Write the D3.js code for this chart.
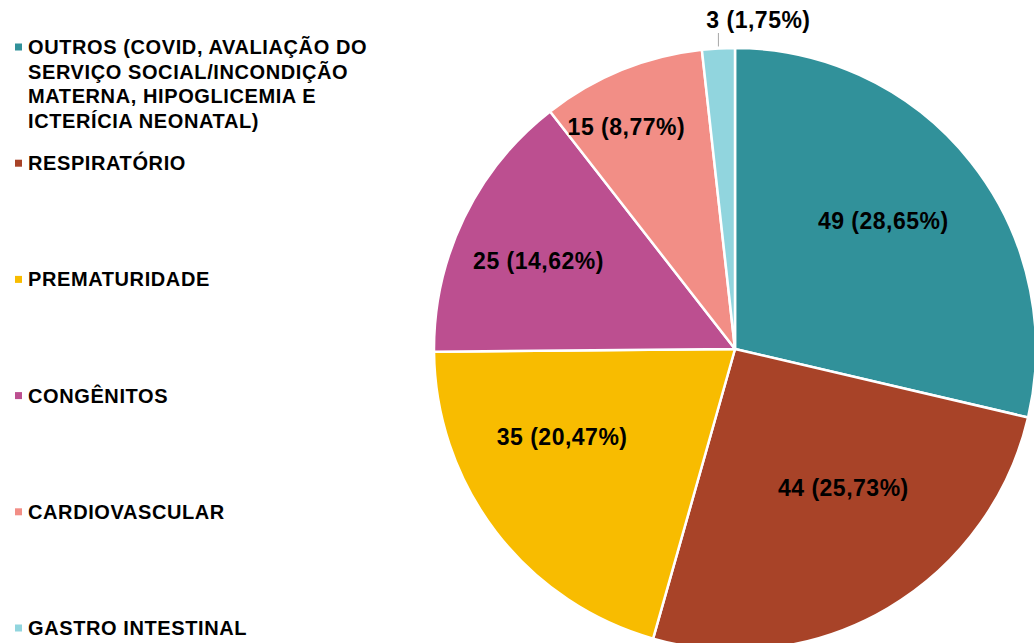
<!DOCTYPE html>
<html>
<head>
<meta charset="utf-8">
<script src="https://cdn.jsdelivr.net/npm/d3@7"></script>
<style>
  body { margin: 0; background: #fff; }
  svg text { font-family: "Liberation Sans", Arial, sans-serif; font-weight: bold; fill: #000; }
</style>
</head>
<body>
<div class="chart"></div>
<script>
// categories (legend lines split as in the picture)
const categories = [
    ['OUTROS (COVID, AVALIAÇÃO DO', 'SERVIÇO SOCIAL/INCONDIÇÃO', 'MATERNA, HIPOGLICEMIA E', 'ICTERÍCIA NEONATAL)'],
    ['RESPIRATÓRIO'],
    ['PREMATURIDADE'],
    ['CONGÊNITOS'],
    ['CARDIOVASCULAR'],
    ['GASTRO INTESTINAL']
];
const counts = [49, 44, 35, 25, 15, 3];
const percents = ['28,65%', '25,73%', '20,47%', '14,62%', '8,77%', '1,75%'];
const colors = ['#31919a', '#a84328', '#f8bc00', '#bc4f90', '#f28e86', '#91d5de'];

const width = 1034, height = 643;
const cx = 735, cy = 349, radius = 301;

// best-fit style label nudges (radius factor, angle offset)
const labelR = [0.65, 0.585, 0.645, 0.715, 0.82];
const labelA = [-0.04, -0.13, 0.18, -0.03, -0.07];

const svg = d3.select('.chart').append('svg')
    .attr('width', width)
    .attr('height', height);

const pie = d3.pie().sort(null).value(d => d);
const arcs = pie(counts);
const arc = d3.arc().innerRadius(0).outerRadius(radius);

const g = svg.append('g').attr('transform', `translate(${cx},${cy})`);

g.selectAll('path')
    .data(arcs)
    .enter()
    .append('path')
    .attr('d', arc)
    .attr('fill', (d, i) => colors[i])
    .attr('stroke', '#fff')
    .attr('stroke-width', 2.5)
    .attr('stroke-linejoin', 'round');

// inside labels
arcs.forEach(function(d, i) {
    let a = (d.startAngle + d.endAngle) / 2;
    let txt = counts[i] + ' (' + percents[i] + ')';
    if (i < 5) {
        let r = radius * labelR[i];
        let ang = a + labelA[i];
        g.append('text')
            .attr('x', r * Math.sin(ang))
            .attr('y', -r * Math.cos(ang))
            .attr('text-anchor', 'middle')
            .attr('dominant-baseline', 'central')
            .style('font-size', '23px')
            .style('letter-spacing', '0.5px')
            .text(txt);
    } else {
        // small slice: label outside with leader line
        let x = radius * Math.sin(a);
        g.append('line')
            .attr('x1', x).attr('x2', x)
            .attr('y1', -radius * Math.cos(a) - 2)
            .attr('y2', -cy + 33)
            .attr('stroke', '#a6a6a6')
            .attr('stroke-width', 1);
        g.append('text')
            .attr('x', x + 40)
            .attr('y', -cy + 20)
            .attr('text-anchor', 'middle')
            .attr('dominant-baseline', 'central')
            .style('font-size', '23px')
            .style('letter-spacing', '0.5px')
            .text(txt);
    }
});

// legend
const legendY = d3.scalePoint()
    .domain(d3.range(categories.length))
    .range([47, 628]);

const items = svg.selectAll('.leg')
    .data(categories)
    .enter()
    .append('g')
    .attr('class', 'leg')
    .attr('transform', (d, i) => `translate(0,${legendY(i)})`);

items.append('rect')
    .attr('x', 15)
    .attr('y', -3.5)
    .attr('width', 7)
    .attr('height', 7)
    .attr('fill', (d, i) => colors[i]);

items.append('text')
    .attr('x', 28)
    .style('font-size', '20px')
    .style('letter-spacing', '0.6px')
    .selectAll('tspan')
    .data(d => d)
    .enter()
    .append('tspan')
    .attr('x', 28)
    .attr('y', (d, j) => j * 24.7)
    .attr('dominant-baseline', 'central')
    .text(d => d);
</script>
</body>
</html>
